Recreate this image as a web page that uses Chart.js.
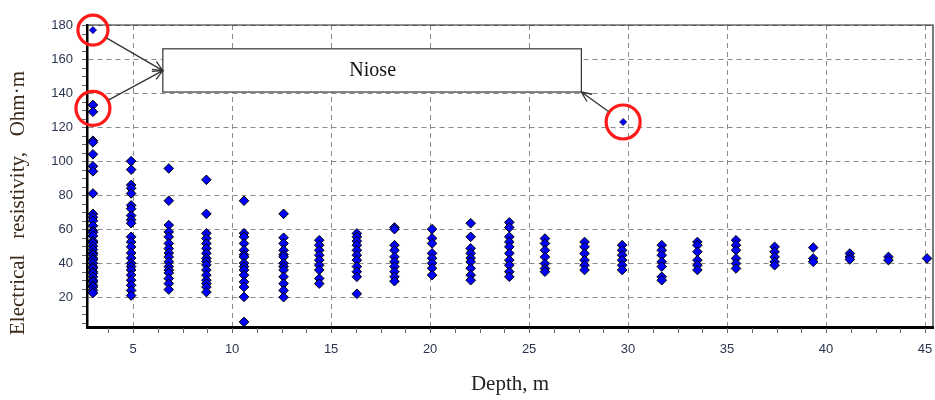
<!DOCTYPE html>
<html>
<head>
<meta charset="utf-8">
<script src="https://cdn.jsdelivr.net/npm/chart.js@4.4.1/dist/chart.umd.min.js"></script>
<style>
  html, body { margin:0; padding:0; background:#fff; }
  #wrap { width:935px; height:400px; position:relative; }
</style>
</head>
<body>
<div id="wrap"><canvas id="chart"></canvas></div>
<script>
// depth of each measuring column, m
const depths = [2.97, 4.9, 6.8, 8.7, 10.6, 12.6, 14.4, 16.3, 18.2, 20.1, 22.05, 24.0,
                25.8, 27.8, 29.7, 31.7, 33.5, 35.45, 37.4, 39.35, 41.2, 43.15, 45.1];

// resistivity values per column, Ohm·m
const resistivity = [
  [133, 129, 112, 111, 104, 97, 94, 81, 69, 67, 65, 62, 59, 58, 56, 53, 52, 50, 48, 46, 45, 43, 42, 40, 38, 37, 35, 34, 32, 30, 29, 27, 26, 24, 22.5],
  [100, 95, 86, 84, 81, 74, 72, 68, 65.5, 63.5, 55.5, 52.5, 49.6, 46, 43, 40, 38, 36, 33, 30, 27, 24, 21],
  [95.7, 76.7, 62.4, 58.4, 55.5, 51.6, 48.6, 46, 43.7, 40.8, 38, 36, 34.3, 31, 28, 24.5],
  [89, 69, 57.6, 54.6, 51.6, 48.7, 45.8, 42.9, 41, 39, 36, 33, 30, 28, 26, 23],
  [76.7, 57.6, 55.5, 51.6, 47.6, 45, 43.7, 40, 38, 36, 33, 29, 26, 20.2, 5.5],
  [69, 55, 51.6, 47.6, 45, 43.7, 40, 38, 36, 32, 28, 24, 20],
  [53.5, 50.6, 47.6, 44.7, 41.8, 38.8, 36, 31, 28],
  [57.5, 55.5, 53, 50.6, 47.6, 44.7, 41.8, 38, 35, 32, 22],
  [61, 60, 50.6, 47.6, 43.7, 40.8, 38, 35, 32, 29.4],
  [60, 54.6, 51.6, 45.8, 42.9, 40, 37, 33],
  [63.5, 55.5, 48.7, 45.8, 43, 40.8, 37, 33, 30],
  [64, 61, 55.5, 52.5, 49.6, 45.8, 41.8, 38.8, 35, 32],
  [54.5, 51.6, 47.6, 43.7, 39.8, 36.9, 35],
  [52.5, 49.6, 45.7, 41.8, 38.8, 36],
  [50.6, 47.6, 44.7, 41.8, 38.8, 36],
  [50.6, 47.6, 44.7, 40.8, 38, 32, 30],
  [52.5, 50.6, 46.7, 41.8, 38.8, 36],
  [53.5, 50.6, 47.6, 42.8, 39.8, 36.9],
  [49.6, 46.7, 43.7, 40.8, 38.8],
  [49.2, 42.8, 40.8],
  [45.7, 43.7, 42.2],
  [43.7, 41.8],
  [42.8]
];

// outliers marked as noise
const noiseX = [2.97, 29.75];
const noiseY = [177, 123];

const xTicks = [5, 10, 15, 20, 25, 30, 35, 40, 45];
const yTicks = [20, 40, 60, 80, 100, 120, 140, 160, 180];
const noiseLabel = 'Niose';
const yTitle = 'Electrical   resistivity,   Ohm\u00b7m';

const points = depths.flatMap((d, i) => resistivity[i].map(v => ({ x: d, y: v })));
const noisePts = noiseX.map((x, i) => ({ x, y: noiseY[i] }));

const serif = '"Liberation Serif", "Times New Roman", serif';

// annotation: box, circles, arrows, minor ticks, thin top/right frame, y title
const extras = {
  id: 'extras',
  afterDraw(chart) {
    const { ctx, chartArea: a, scales: { x, y } } = chart;
    ctx.save();
    // thin frame top/right
    ctx.strokeStyle = '#222'; ctx.lineWidth = 1.2;
    ctx.beginPath();
    ctx.moveTo(a.left, a.top); ctx.lineTo(a.right, a.top); ctx.lineTo(a.right, a.bottom);
    ctx.stroke();

    // minor ticks
    ctx.strokeStyle = '#666'; ctx.lineWidth = 1;
    ctx.beginPath();
    for (let v = 3.75; v <= 45.01; v += 1.25) {
      const px = Math.round(x.getPixelForValue(v)) + 0.5;
      ctx.moveTo(px, a.bottom + 1); ctx.lineTo(px, a.bottom + 6);
    }
    for (let v = 5; v <= 180; v += 5) {
      const py = Math.round(y.getPixelForValue(v)) + 0.5;
      ctx.moveTo(a.left - 5, py); ctx.lineTo(a.left - 1, py);
    }
    ctx.stroke();

    // y axis title
    ctx.save();
    ctx.translate(18, 203);
    ctx.rotate(-Math.PI / 2);
    ctx.fillStyle = '#3a2a1a';
    ctx.font = '21px ' + serif;
    ctx.textAlign = 'center'; ctx.textBaseline = 'middle';
    ctx.fillText(yTitle, 0, 0);
    ctx.restore();

    // box
    const bx1 = x.getPixelForValue(6.5), bx2 = x.getPixelForValue(27.64);
    const by1 = y.getPixelForValue(166), by2 = y.getPixelForValue(140.6);
    ctx.fillStyle = '#fff';
    ctx.fillRect(bx1, by1, bx2 - bx1, by2 - by1);
    ctx.strokeStyle = '#333'; ctx.lineWidth = 1.2;
    ctx.strokeRect(bx1, by1, bx2 - bx1, by2 - by1);
    ctx.fillStyle = '#111';
    ctx.font = '20px ' + serif;
    ctx.textAlign = 'center'; ctx.textBaseline = 'middle';
    ctx.fillText(noiseLabel, x.getPixelForValue(17.1), y.getPixelForValue(153));

    // red circles
    const circles = [
      { cx: noiseX[0], cy: noiseY[0], r: 15 },
      { cx: depths[0], cy: 131, r: 17 },
      { cx: noiseX[1], cy: noiseY[1], r: 17 }
    ];
    ctx.strokeStyle = '#ff1a1a'; ctx.lineWidth = 3.2;
    circles.forEach(c => {
      ctx.beginPath();
      ctx.arc(x.getPixelForValue(c.cx), y.getPixelForValue(c.cy), c.r, 0, Math.PI * 2);
      ctx.stroke();
    });

    // arrows from circle edge to box
    const targets = [
      [bx1, y.getPixelForValue(153.2)],
      [bx1, y.getPixelForValue(153.2)],
      [bx2, by2]
    ];
    ctx.strokeStyle = '#333'; ctx.lineWidth = 1.3;
    circles.forEach((c, i) => {
      const cx = x.getPixelForValue(c.cx), cy = y.getPixelForValue(c.cy);
      const [tx, ty] = targets[i];
      const ang = Math.atan2(ty - cy, tx - cx);
      const sx = cx + Math.cos(ang) * (c.r + 1), sy = cy + Math.sin(ang) * (c.r + 1);
      ctx.beginPath();
      ctx.moveTo(sx, sy); ctx.lineTo(tx, ty);
      const h = 11, w = 0.42;
      ctx.moveTo(tx - h * Math.cos(ang - w), ty - h * Math.sin(ang - w));
      ctx.lineTo(tx, ty);
      ctx.lineTo(tx - h * Math.cos(ang + w), ty - h * Math.sin(ang + w));
      ctx.stroke();
    });
    ctx.restore();
  }
};

const gridStyle = { color: '#8a8a8a', lineWidth: 1, drawTicks: false, tickLength: 0 };

new Chart(document.getElementById('chart'), {
  type: 'scatter',
  data: {
    datasets: [
      { data: points, pointStyle: 'rectRot', radius: 4.8, backgroundColor: '#0000ff', borderColor: '#000', borderWidth: 1 },
      { data: noisePts, pointStyle: 'rectRot', radius: 3.6, backgroundColor: '#0000ff', borderColor: '#1a1a4a', borderWidth: 0.8 }
    ]
  },
  options: {
    responsive: true,
    maintainAspectRatio: false,
    animation: false,
    layout: { autoPadding: false, padding: { top: 25, right: 2, left: 0, bottom: 0 } },
    plugins: { legend: { display: false }, tooltip: { enabled: false } },
    scales: {
      x: {
        type: 'linear', min: 2.67, max: 45.4,
        afterBuildTicks: s => { s.ticks = xTicks.map(v => ({ value: v })); },
        afterFit: s => { s.height = 73; s.paddingLeft = 0; s.paddingRight = 0; },
        grid: gridStyle,
        border: { display: true, color: '#000', width: 3, dash: [5, 4] },
        ticks: { color: '#2c3550', padding: 15, font: { family: '"Liberation Sans", Arial, sans-serif', size: 13 } },
        title: { display: true, text: 'Depth, m', color: '#222', padding: { top: 0, bottom: 3 },
                 font: { family: serif, size: 21 } }
      },
      y: {
        type: 'linear', min: 2.5, max: 180,
        afterBuildTicks: s => { s.ticks = yTicks.map(v => ({ value: v })); },
        afterFit: s => { s.width = 87; s.paddingTop = 0; s.paddingBottom = 0; },
        grid: gridStyle,
        border: { display: true, color: '#000', width: 2.5, dash: [5, 4] },
        ticks: { color: '#2c3550', padding: 14, font: { family: '"Liberation Sans", Arial, sans-serif', size: 13 } }
      }
    }
  },
  plugins: [extras]
});
</script>
</body>
</html>
